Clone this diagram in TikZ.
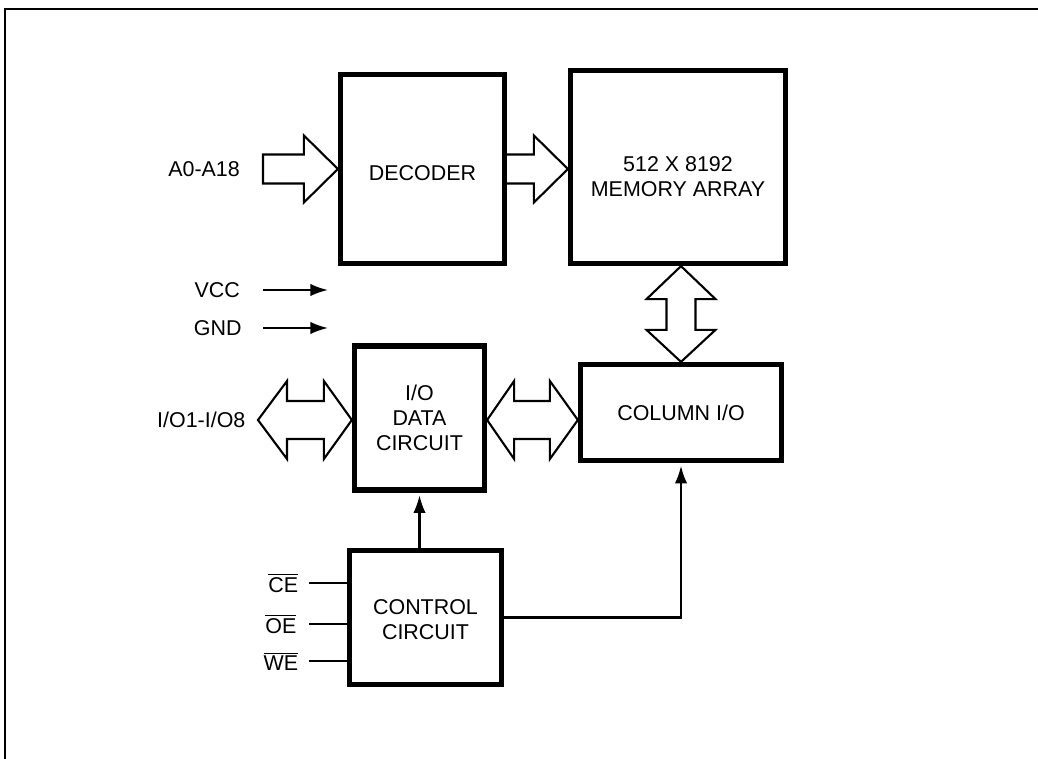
\documentclass[tikz,border=0pt]{standalone}
\usepackage{fontspec}
\setmainfont{Liberation Sans}
\usetikzlibrary{arrows.meta,calc,positioning}

\tikzset{
  block/.style={draw, line width=3pt, inner sep=0pt, align=center},
  bus/.style={draw, line width=1.2pt, line join=miter},
  sig/.style={line width=1.2pt},
  lbl/.style={inner sep=0pt},
  >={Latex[length=10pt,width=7pt]}
}

\begin{document}
\begin{tikzpicture}[x=0.02cm,y=-0.02cm,font=\fontsize{12.2}{14.2}\selectfont]

\useasboundingbox (0,0) rectangle (1038,759);

% Frame
\draw[line width=1.4pt] (5,759) -- (5,9) -- (1038,9);

% Blocks
\node[block, minimum width=3.28cm, minimum height=3.78cm] (dec) at (422.5,169) {\rule{0pt}{13pt}DECODER};
\node[block, minimum width=4.30cm, minimum height=3.86cm] (mem) at (678,167) {\rule{0pt}{19pt}512 X 8192\\MEMORY ARRAY};
\node[block, minimum width=2.60cm, minimum height=2.88cm] (iod) at (419.5,418) {I/O\\DATA\\CIRCUIT};
\node[block, minimum width=4.02cm, minimum height=1.92cm] (col) at (681,412.5) {COLUMN I/O};
\node[block, minimum width=3.04cm, minimum height=2.68cm] (ctl) at (425.5,617.5) {\rule{0pt}{11pt}CONTROL\\CIRCUIT};

% Address bus
\coordinate (addr) at (263,169);
\node[lbl, left=13pt of addr] {A0-A18};
\draw[bus] ($(addr)+(0,-14.5)$) -- ($(dec.west)+(-34,-14.5)$) -- ++(0,-19)
  -- (dec.west) -- ++(-34,33.5) -- ++(0,-19) -- ($(addr)+(0,14.5)$) -- cycle;

% Decoder to array
\draw[bus] ($(dec.east)+(0,-14.5)$) -- ($(mem.west|-dec.east)+(-34,-14.5)$) -- ++(0,-19)
  -- (mem.west|-dec.east) -- ++(-34,33.5) -- ++(0,-19) -- ($(dec.east)+(0,14.5)$);

% Supply
\coordinate (vccin) at (263,290);
\coordinate (vccout) at (328,290);
\coordinate (gndin) at (263,328);
\coordinate (gndout) at (328,328);
\node[lbl, left=13pt of vccin] {VCC};
\node[lbl, left=12pt of gndin] {GND};
\draw[sig,->] (vccin) -- (vccout);
\draw[sig,->] (gndin) -- (gndout);

% Data bus
\coordinate (iopin) at (258,420);
\node[lbl, left=7pt of iopin] {I/O1-I/O8};
\draw[bus] (iopin) -- ++(29,-39) -- ++(0,20) -- ($(iod.west|-iopin)+(-28,-19)$) -- ++(0,-20)
  -- (iod.west|-iopin) -- ++(-28,39) -- ++(0,-20) -- ($(iopin)+(29,19)$) -- ++(0,20) -- cycle;
\draw[bus] (iod.east|-iopin) -- ++(27,-39) -- ++(0,20) -- ($(col.west|-iopin)+(-28,-19)$) -- ++(0,-20)
  -- (col.west|-iopin) -- ++(-28,39) -- ++(0,-20) -- ($(iod.east|-iopin)+(27,19)$) -- ++(0,20) -- cycle;

% Array to column I/O
\draw[bus] (col.north|-mem.south) -- ++(34.5,33) -- ++(-20,0) -- ($(col.north)+(14.5,-32)$) -- ++(20,0)
  -- (col.north) -- ++(-34.5,-32) -- ++(20,0) -- ($(col.north|-mem.south)+(-14.5,33)$) -- ++(-20,0) -- cycle;

% Control inputs
\coordinate (cein) at (309,583);
\coordinate (oein) at (309,624);
\coordinate (wein) at (309,661);
\node[lbl, left=6pt of cein] {$\overline{\hbox{CE}}$};
\node[lbl, left=7pt of oein] {$\overline{\hbox{OE}}$};
\node[lbl, left=6pt of wein] {$\overline{\hbox{WE}}$};
\draw[sig] (cein) -- (cein-|ctl.west);
\draw[sig] (oein) -- (oein-|ctl.west);
\draw[sig] (wein) -- (wein-|ctl.west);

% Control outputs
\draw[sig,->,shorten >=1.5pt] (iod.south|-ctl.north) -- (iod.south);
\draw[sig,->,shorten >=1.5pt] (ctl.east) -- (ctl.east-|col.south) -- (col.south);

\end{tikzpicture}
\end{document}
